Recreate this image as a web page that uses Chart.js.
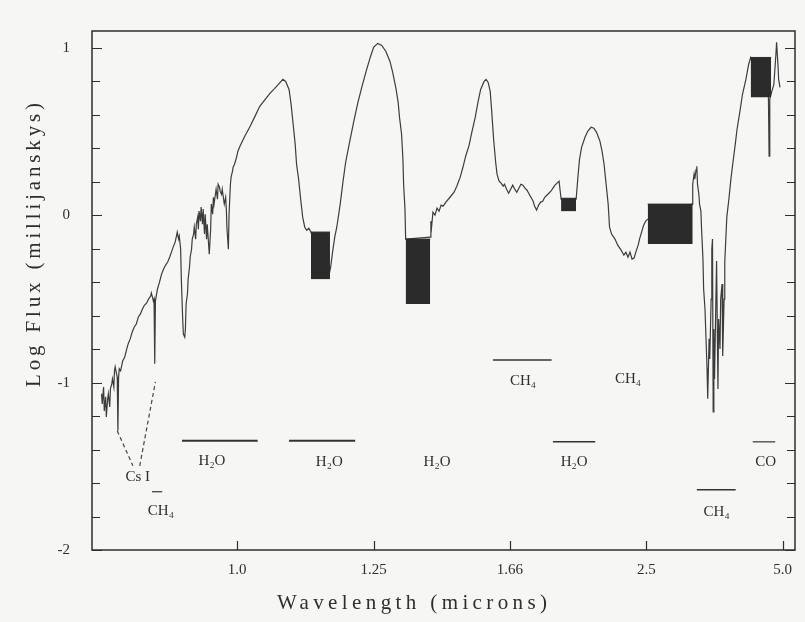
<!DOCTYPE html>
<html>
<head>
<meta charset="utf-8">
<script src="https://cdn.jsdelivr.net/npm/chart.js@4.4.1/dist/chart.umd.min.js"></script>
<style>
  body { margin: 0; background: #f6f6f4; }
  #spectrum { display: block; }
</style>
</head>
<body>
<canvas id="spectrum" width="805" height="622"></canvas>
<script>
// x is plotted linear in wavenumber (1/micron), reversed, labelled in microns
let xTickValues = [1.0, 0.8, 0.6, 0.4, 0.2];
let xTickLabels = ["1.0", "1.25", "1.66", "2.5", "5.0"];
let yTickValues = [-2, -1, 0, 1];

// spectrum: wavenumber (1/micron) and log flux (mJy)
let waveNum = [
  1.199, 1.198, 1.196, 1.195, 1.193, 1.192, 1.190, 1.189, 1.187, 1.186, 1.184, 1.183, 1.181, 1.180, 1.179, 1.177, 1.176, 1.175, 1.174, 1.173,
  1.171, 1.168, 1.165, 1.162, 1.160, 1.157, 1.154, 1.151, 1.148, 1.145, 1.142, 1.139, 1.136, 1.133, 1.130, 1.127, 1.126, 1.124, 1.123, 1.122,
  1.121, 1.120, 1.117, 1.114, 1.111, 1.108, 1.105, 1.102, 1.099, 1.096, 1.094, 1.091, 1.088, 1.086, 1.085, 1.083, 1.082, 1.080, 1.079, 1.077,
  1.076, 1.075, 1.073, 1.072, 1.070, 1.069, 1.067, 1.066, 1.064, 1.063, 1.061, 1.060, 1.058, 1.057, 1.056, 1.054, 1.053, 1.051, 1.050, 1.048,
  1.047, 1.045, 1.044, 1.042, 1.041, 1.039, 1.038, 1.036, 1.035, 1.034, 1.032, 1.031, 1.029, 1.028, 1.026, 1.025, 1.023, 1.022, 1.020, 1.019,
  1.017, 1.016, 1.015, 1.013, 1.012, 1.010, 1.009, 1.007, 1.006, 1.004, 1.001, 0.999, 0.996, 0.989, 0.981, 0.974, 0.967, 0.959, 0.952, 0.945,
  0.937, 0.933, 0.929, 0.924, 0.921, 0.918, 0.915, 0.913, 0.910, 0.907, 0.904, 0.901, 0.898, 0.895, 0.892, 0.866, 0.863, 0.860, 0.857, 0.854,
  0.849, 0.845, 0.841, 0.835, 0.829, 0.823, 0.817, 0.811, 0.805, 0.800, 0.794, 0.788, 0.782, 0.776, 0.772, 0.767, 0.764, 0.762, 0.759, 0.757,
  0.756, 0.754, 0.753, 0.717, 0.716, 0.715, 0.713, 0.710, 0.707, 0.704, 0.701, 0.698, 0.694, 0.688, 0.682, 0.678, 0.673, 0.669, 0.665, 0.660,
  0.656, 0.651, 0.647, 0.643, 0.638, 0.635, 0.632, 0.629, 0.627, 0.624, 0.621, 0.619, 0.616, 0.613, 0.610, 0.608, 0.605, 0.602, 0.599, 0.596,
  0.593, 0.590, 0.587, 0.584, 0.581, 0.578, 0.575, 0.571, 0.566, 0.564, 0.561, 0.558, 0.555, 0.552, 0.549, 0.546, 0.543, 0.540, 0.537, 0.534,
  0.531, 0.528, 0.525, 0.503, 0.500, 0.498, 0.495, 0.490, 0.486, 0.481, 0.477, 0.473, 0.468, 0.465, 0.462, 0.459, 0.456, 0.454, 0.451, 0.446,
  0.442, 0.437, 0.433, 0.430, 0.427, 0.424, 0.421, 0.418, 0.415, 0.412, 0.410, 0.407, 0.404, 0.401, 0.398, 0.333, 0.332, 0.330, 0.329, 0.327,
  0.326, 0.325, 0.323, 0.322, 0.320, 0.319, 0.317, 0.316, 0.314, 0.313, 0.311, 0.310, 0.308, 0.307, 0.305, 0.304, 0.303, 0.302, 0.301, 0.300,
  0.298, 0.297, 0.295, 0.294, 0.292, 0.291, 0.289, 0.288, 0.286, 0.285, 0.282, 0.279, 0.276, 0.273, 0.270, 0.267, 0.263, 0.259, 0.254, 0.250,
  0.247, 0.221, 0.220, 0.219, 0.216, 0.213, 0.210, 0.209, 0.207, 0.206, 0.204
];
let logFlux = [
  -1.067, -1.127, -1.026, -1.169, -1.085, -1.205, -1.097, -1.067, -1.145, -1.038, -1.008, -0.978, -1.026, -0.930, -0.906, -0.948, -0.966, -1.288, -0.966, -0.918,
  -0.930, -0.871, -0.847, -0.799, -0.769, -0.739, -0.698, -0.668, -0.650, -0.608, -0.590, -0.560, -0.537, -0.525, -0.501, -0.483, -0.465, -0.495, -0.513, -0.501,
  -0.888, -0.513, -0.441, -0.400, -0.352, -0.322, -0.298, -0.280, -0.250, -0.215, -0.191, -0.161, -0.101, -0.143, -0.125, -0.203, -0.382, -0.620, -0.710, -0.728,
  -0.680, -0.531, -0.471, -0.382, -0.310, -0.250, -0.203, -0.143, -0.113, -0.072, -0.143, -0.054, -0.012, -0.084, 0.024, -0.036, 0.048, -0.054, 0.036, -0.113,
  0.006, -0.143, -0.054, -0.173, -0.233, -0.084, 0.066, 0.006, 0.107, 0.066, 0.125, 0.155, 0.095, 0.185, 0.167, 0.143, 0.125, 0.155, 0.095, 0.066,
  0.107, 0.036, -0.084, -0.203, 0.006, 0.185, 0.227, 0.262, 0.286, 0.304, 0.346, 0.382, 0.411, 0.471, 0.531, 0.590, 0.650, 0.692, 0.727, 0.757,
  0.793, 0.811, 0.799, 0.751, 0.662, 0.543, 0.423, 0.304, 0.215, 0.095, -0.012, -0.072, -0.090, -0.078, -0.101, -0.370, -0.310, -0.215, -0.131, -0.072,
  0.066, 0.197, 0.316, 0.441, 0.561, 0.674, 0.769, 0.859, 0.942, 1.002, 1.026, 1.014, 0.978, 0.918, 0.853, 0.751, 0.674, 0.584, 0.483, 0.334,
  0.185, 0.036, -0.143, -0.131, -0.036, -0.072, 0.018, 0.000, 0.042, 0.024, 0.060, 0.054, 0.078, 0.107, 0.137, 0.173, 0.227, 0.286, 0.352, 0.417,
  0.495, 0.584, 0.674, 0.751, 0.799, 0.811, 0.793, 0.739, 0.632, 0.453, 0.316, 0.245, 0.203, 0.191, 0.173, 0.185, 0.155, 0.131, 0.155, 0.179,
  0.155, 0.137, 0.161, 0.185, 0.179, 0.161, 0.149, 0.119, 0.083, 0.054, 0.030, 0.060, 0.078, 0.083, 0.107, 0.119, 0.131, 0.143, 0.161, 0.179,
  0.191, 0.203, 0.095, 0.095, 0.245, 0.334, 0.405, 0.465, 0.501, 0.525, 0.519, 0.495, 0.441, 0.382, 0.304, 0.185, 0.066, -0.072, -0.113, -0.143,
  -0.179, -0.209, -0.239, -0.221, -0.251, -0.221, -0.262, -0.256, -0.215, -0.179, -0.143, -0.101, -0.060, -0.036, -0.024, 0.066, 0.185, 0.245, 0.215, 0.274,
  0.292, 0.185, 0.125, 0.066, 0.024, -0.084, -0.262, -0.441, -0.561, -0.680, -0.918, -1.097, -0.739, -0.859, -0.501, -0.203, -0.143, -1.175, -0.680, -0.978,
  -0.501, -0.274, -1.038, -0.620, -0.799, -0.501, -0.411, -0.841, -0.501, -0.280, -0.012, 0.095, 0.215, 0.316, 0.411, 0.513, 0.614, 0.722, 0.811, 0.900,
  0.942, 0.710, 0.352, 0.692, 0.739, 0.781, 0.960, 1.032, 0.900, 0.811, 0.763
];

// photometry boxes: wavenumber edges and log flux top / bottom
let boxLeft = [0.892, 0.753, 0.525, 0.398, 0.247];
let boxRight = [0.864, 0.717, 0.503, 0.332, 0.217];
let boxTop = [-0.101, -0.143, 0.101, 0.066, 0.942];
let boxBottom = [-0.382, -0.531, 0.024, -0.173, 0.704];

// band markers (horizontal bars)
let bandFrom = [1.081, 0.924, 0.625, 0.537, 0.244, 0.326, 1.125];
let bandTo = [0.970, 0.827, 0.539, 0.475, 0.211, 0.269, 1.110];
let bandLevel = [-1.348, -1.348, -0.865, -1.354, -1.354, -1.640, -1.652];
let bandWidth = [2, 2, 1.5, 1.5, 1.2, 1.5, 1.2];

// Cs I dashed guides
let csWave = [1.176, 1.153, null, 1.143, 1.120];
let csFlux = [-1.288, -1.497, null, -1.497, -0.996];

// feature labels
let labelText = ["Cs I", "CH\u2084", "H\u2082O", "H\u2082O", "H\u2082O", "CH\u2084", "CH\u2084", "H\u2082O", "CO", "CH\u2084"];
let labelWave = [1.146, 1.112, 1.037, 0.865, 0.707, 0.581, 0.427, 0.506, 0.225, 0.297];
let labelFlux = [-1.562, -1.765, -1.467, -1.473, -1.473, -0.990, -0.978, -1.473, -1.473, -1.771];

let ink = "#2e2e2e";
let serif = "'Liberation Serif', 'DejaVu Serif', serif";

let datasets = [];

datasets.push({
  data: waveNum.map((k, i) => ({ x: k, y: logFlux[i] })),
  showLine: true, borderColor: "#3c3c3c", borderWidth: 1.2, pointRadius: 0, tension: 0, order: 3
});

for (let i = 0; i < boxLeft.length; i++) {
  datasets.push({
    data: [{ x: boxLeft[i], y: boxTop[i] }, { x: boxRight[i], y: boxTop[i] }],
    showLine: true, borderColor: "#2b2b2b", borderWidth: 1, pointRadius: 0,
    fill: { value: boxBottom[i] }, backgroundColor: "#2b2b2b", order: 2
  });
}

for (let i = 0; i < bandFrom.length; i++) {
  datasets.push({
    data: [{ x: bandFrom[i], y: bandLevel[i] }, { x: bandTo[i], y: bandLevel[i] }],
    showLine: true, borderColor: "#333", borderWidth: bandWidth[i], pointRadius: 0, order: 1
  });
}

datasets.push({
  data: csWave.map((k, i) => ({ x: k, y: csFlux[i] })),
  showLine: true, spanGaps: false, borderColor: "#444", borderWidth: 1.2, borderDash: [4, 3], pointRadius: 0, order: 1
});

// frame, inward ticks, titles and feature labels
let decorPlugin = {
  id: "decor",
  afterDatasetsDraw(chart) {
    let ctx = chart.ctx;
    let a = chart.chartArea;
    let xs = chart.scales.x, ys = chart.scales.y;
    ctx.save();
    ctx.strokeStyle = ink;
    ctx.lineWidth = 1.5;
    ctx.strokeRect(a.left, a.top, a.right - a.left, a.bottom - a.top);

    ctx.lineWidth = 1.2;
    ctx.beginPath();
    for (let v = -2; v <= 1.1; v += 0.2) {
      let py = Math.round(ys.getPixelForValue(v)) + 0.5;
      let len = Math.abs(v - Math.round(v)) < 0.01 ? 10 : 8;
      ctx.moveTo(a.left, py); ctx.lineTo(a.left + len, py);
      ctx.moveTo(a.right, py); ctx.lineTo(a.right - len, py);
    }
    xTickValues.forEach(k => {
      let px = Math.round(xs.getPixelForValue(k)) + 0.5;
      ctx.moveTo(px, a.bottom); ctx.lineTo(px, a.bottom - 9);
    });
    ctx.stroke();

    ctx.fillStyle = ink;
    ctx.font = "15px " + serif;
    ctx.textAlign = "center";
    ctx.textBaseline = "middle";
    labelText.forEach((t, i) => {
      ctx.fillText(t, xs.getPixelForValue(labelWave[i]), ys.getPixelForValue(labelFlux[i]));
    });

    ctx.font = "21px " + serif;
    spacedText(ctx, "Wavelength (microns)", 412, 603, 270);
    ctx.translate(34, 245);
    ctx.rotate(-Math.PI / 2);
    spacedText(ctx, "Log Flux (millijanskys)", 0, 0, 284);
    ctx.restore();
  }
};

// draw text stretched with letter spacing to the width seen in the scan
function spacedText(ctx, text, x, y, width) {
  ctx.letterSpacing = "0px";
  let natural = ctx.measureText(text).width;
  let gap = Math.max(0, (width - natural) / (text.length - 1));
  ctx.letterSpacing = gap.toFixed(2) + "px";
  ctx.textAlign = "center";
  ctx.textBaseline = "middle";
  ctx.fillText(text, x + gap / 2, y);
  ctx.letterSpacing = "0px";
}

new Chart(document.getElementById("spectrum").getContext("2d"), {
  type: "scatter",
  data: { datasets: datasets },
  plugins: [decorPlugin],
  options: {
    responsive: false,
    animation: false,
    layout: { padding: { top: 31, right: 10, left: 0, bottom: 0 } },
    scales: {
      x: {
        type: "linear", reverse: true, min: 0.182, max: 1.213,
        afterBuildTicks: s => { s.ticks = xTickValues.map(v => ({ value: v })); },
        afterFit: s => { s.height = 72; },
        grid: { display: false, drawTicks: false },
        border: { display: false },
        ticks: {
          padding: 11, color: ink, font: { family: serif, size: 15 },
          callback: (v, i) => xTickLabels[i]
        }
      },
      y: {
        min: -2, max: 1.1,
        afterBuildTicks: s => { s.ticks = yTickValues.map(v => ({ value: v })); },
        afterFit: s => { s.width = 92; },
        grid: { display: false, drawTicks: false },
        border: { display: false },
        ticks: {
          padding: 22, color: ink, font: { family: serif, size: 15 },
          callback: v => String(v)
        }
      }
    },
    plugins: { legend: { display: false }, tooltip: { enabled: false } }
  }
});
</script>
</body>
</html>
